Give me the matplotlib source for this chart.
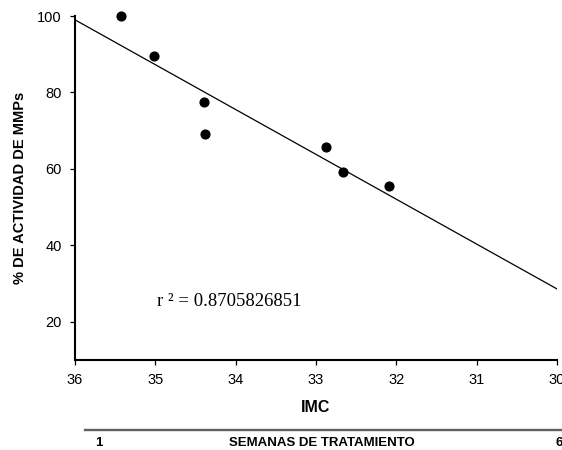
import matplotlib.pyplot as plt

# Datos
imc = [35.43, 35.02, 34.40, 34.38, 32.88, 32.66, 32.09]
actividad = [100.0, 89.6, 77.4, 69.2, 65.6, 59.3, 55.6]

# Recta de regresion (extremos)
recta_x = [36, 30]
recta_y = [99.0, 28.6]

x_ticks = [36, 35, 34, 33, 32, 31, 30]
y_ticks = [20, 40, 60, 80, 100]

plt.rcParams['font.family'] = ['Liberation Sans', 'DejaVu Sans']

fig = plt.figure(figsize=(5.62, 4.5), dpi=100)
ax = fig.add_axes([0.1335, 0.2, 0.8575, 0.7644])

ax.plot(recta_x, recta_y, color='black', linewidth=0.9)
ax.plot(imc, actividad, 'o', color='black', markersize=6.3, clip_on=False)

ax.set_xlim(36, 30)
ax.set_ylim(10, 100)
ax.set_xticks(x_ticks)
ax.set_yticks(y_ticks)
ax.tick_params(labelsize=10.5, length=3.5, width=0.9, pad=6)

for s in ['top', 'right']:
    ax.spines[s].set_visible(False)
ax.spines['left'].set_linewidth(1.5)
ax.spines['bottom'].set_linewidth(1.5)

ax.set_xlabel('IMC', fontsize=11.5, fontweight='bold', labelpad=9)
ax.set_ylabel('% DE ACTIVIDAD DE MMPs', fontsize=10.5, fontweight='bold', labelpad=7)

ax.text(34.98, 24.0, 'r ² = 0.8705826851', family=['Liberation Serif', 'DejaVu Serif'],
        fontsize=13.5, va='baseline', ha='left')

# Eje secundario: semanas de tratamiento
fig.add_artist(plt.Line2D([85 / 562, 1.0], [1 - 430 / 450] * 2, transform=fig.transFigure,
                          color='#606060', linewidth=1.7))
fig.text(99 / 562, 1 - 443 / 450, '1', fontsize=9.5, fontweight='bold', ha='center', va='center')
fig.text(322 / 562, 1 - 443 / 450, 'SEMANAS DE TRATAMIENTO', fontsize=9.5, fontweight='bold',
         ha='center', va='center')
fig.text(559 / 562, 1 - 443 / 450, '6', fontsize=9.5, fontweight='bold', ha='center', va='center')

fig.savefig('out.png', dpi=100)
